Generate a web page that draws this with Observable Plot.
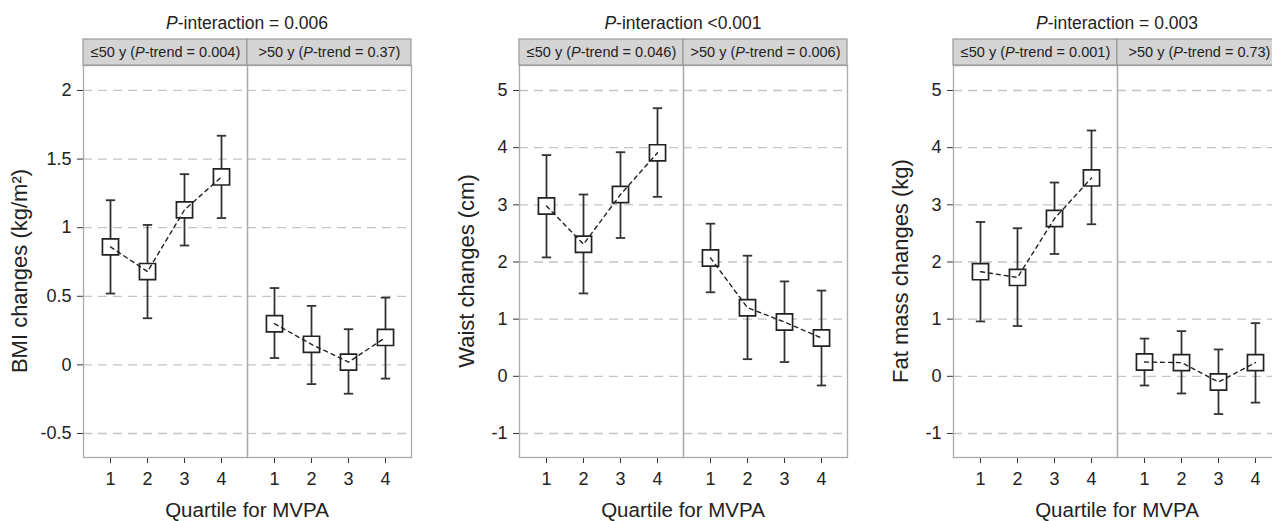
<!DOCTYPE html>
<html>
<head>
<meta charset="utf-8">
<script src="https://cdn.jsdelivr.net/npm/d3@7"></script>
<script src="https://cdn.jsdelivr.net/npm/@observablehq/plot@0.6"></script>
<style>
  body { margin: 0; background: #fff; font-family: "Liberation Sans", Arial, sans-serif; }
  #root { position: relative; width: 1272px; height: 521px; overflow: hidden; background: #fff; }
  .panel { position: absolute; top: 0; }
  .panel svg { max-width: none !important; }
  .title { position: absolute; top: 15px; font-size: 17.5px; color: #222; white-space: nowrap; transform: translateX(-50%); line-height: 1; }
  .xlab { position: absolute; top: 500px; font-size: 20.5px; color: #222; white-space: nowrap; transform: translateX(-50%); line-height: 1; }
  .ylab { position: absolute; font-size: 22px; color: #222; white-space: nowrap; line-height: 1; transform: translate(-50%, -50%) rotate(-90deg); }
</style>
</head>
<body>
<div id="root"></div>
<script>
// ---------- data ----------
const quartiles = [1, 2, 3, 4];
const groups = ["≤50 y", ">50 y"];

// BMI changes (kg/m²): 4 quartiles for ≤50 y, then 4 for >50 y
const bmiMean = [0.86, 0.68, 1.13, 1.37, 0.30, 0.15, 0.02, 0.20];
const bmiLow  = [0.52, 0.34, 0.87, 1.07, 0.05, -0.14, -0.21, -0.10];
const bmiHigh = [1.20, 1.02, 1.39, 1.67, 0.56, 0.43, 0.26, 0.49];
const bmiTrend = ["0.004", "0.37"];
const bmiTicks = [-0.5, 0, 0.5, 1, 1.5, 2];

// Waist changes (cm)
const waistMean = [2.98, 2.31, 3.18, 3.91, 2.07, 1.20, 0.95, 0.67];
const waistLow  = [2.08, 1.45, 2.42, 3.14, 1.47, 0.30, 0.25, -0.16];
const waistHigh = [3.87, 3.18, 3.92, 4.69, 2.67, 2.11, 1.66, 1.50];
const waistTrend = ["0.046", "0.006"];
const waistTicks = [-1, 0, 1, 2, 3, 4, 5];

// Fat mass changes (kg)
const fatMean = [1.83, 1.73, 2.76, 3.47, 0.25, 0.24, -0.10, 0.24];
const fatLow  = [0.96, 0.88, 2.14, 2.66, -0.16, -0.30, -0.66, -0.46];
const fatHigh = [2.70, 2.59, 3.39, 4.30, 0.66, 0.79, 0.47, 0.93];
const fatTrend = ["0.001", "0.73"];
const fatTicks = [-1, 0, 1, 2, 3, 4, 5];

const interactions = ["= 0.006", "<0.001", "= 0.003"];
const yLabels = ["BMI changes (kg/m²)", "Waist changes (cm)", "Fat mass changes (kg)"];
const xLabel = "Quartile for MVPA";

// ---------- drawing ----------
const capSymbol = {
  draw(ctx, size) {
    const w = Math.sqrt(size);
    ctx.moveTo(-w / 2, 0);
    ctx.lineTo(w / 2, 0);
  }
};

function esc(s) { return s.replace(/&/g, "&amp;").replace(/</g, "&lt;").replace(/>/g, "&gt;"); }

function makePanel(cfg) {
  const data = [];
  groups.forEach((g, gi) => quartiles.forEach((q, qi) => {
    const k = gi * 4 + qi;
    data.push({group: g, q, mean: cfg.mean[k], lo: cfg.lo[k], hi: cfg.hi[k]});
  }));
  const headers = groups.map((g, gi) => ({group: g, label: `${g} (P-trend = ${cfg.trend[gi]})`}));
  const top = cfg.domain[1];
  const plot = Plot.plot({
    width: cfg.width,
    height: 521,
    marginLeft: cfg.ml,
    marginRight: cfg.mr,
    marginTop: 65,
    marginBottom: 64,
    style: {fontFamily: "'Liberation Sans', Arial, sans-serif", fontSize: "18px", color: "#333", background: "transparent", overflow: "visible"},
    fx: {domain: groups, padding: 0, axis: null, label: null},
    x: {type: "point", domain: quartiles, padding: 0.658, tickSize: 6, tickPadding: 9, label: null, line: true},
    y: {domain: cfg.domain, ticks: cfg.ticks, tickSize: 6, tickPadding: 6, label: null, line: true, tickFormat: d => String(d)},
    marks: [
      Plot.ruleY(cfg.ticks, {stroke: "#c4c4c4", strokeWidth: 1.3, strokeDasharray: "9,6"}),
      Plot.frame({stroke: "#aaa", strokeWidth: 1.3}),
      Plot.rect([0], {y1: top, y2: top, insetTop: -26, fill: "#d4d4d4", stroke: "#999", strokeWidth: 1.2}),
      Plot.text(headers, {fx: "group", text: "label", frameAnchor: "top", dy: -13, fontSize: 14.5, fill: "#222", lineAnchor: "middle"}),
      Plot.ruleX(data, {fx: "group", x: "q", y1: "lo", y2: "hi", stroke: "#333", strokeWidth: 1.8}),
      Plot.dot(data, {fx: "group", x: "q", y: "hi", symbol: capSymbol, r: 5.3, stroke: "#333", strokeWidth: 1.8, fill: "none"}),
      Plot.dot(data, {fx: "group", x: "q", y: "lo", symbol: capSymbol, r: 5.3, stroke: "#333", strokeWidth: 1.8, fill: "none"}),
      Plot.dot(data, {fx: "group", x: "q", y: "mean", symbol: "square", r: 9.1, stroke: "#222", strokeWidth: 1.7, fill: "#fff"}),
      Plot.line(data, {fx: "group", x: "q", y: "mean", stroke: "#222", strokeWidth: 1.4, strokeDasharray: "4,4"})
    ]
  });
  plot.style.maxWidth = "none";
  plot.querySelectorAll("g").forEach(g => {
    const lab = g.getAttribute("aria-label") || "";
    if (lab.includes("axis")) {
      g.setAttribute("font-size", "18");
      g.style.fontSize = "18px";
    }
  });
  plot.querySelectorAll("text").forEach(t => {
    const s = t.textContent;
    if (s.includes("P-trend")) {
      t.innerHTML = esc(s).replace("P-", '<tspan font-style="italic">P</tspan>-');
    } else {
      t.setAttribute("font-size", "18");
      t.style.fontSize = "18px";
      t.style.fill = "#222";
    }
  });
  return plot;
}

const root = document.getElementById("root");
const panels = [
  {left: 0, width: 424, ml: 83, mr: 13, mean: bmiMean, lo: bmiLow, hi: bmiHigh, trend: bmiTrend, ticks: bmiTicks, domain: [-0.675, 2.182], ylabX: 20},
  {left: 424, width: 426, ml: 95, mr: 3, mean: waistMean, lo: waistLow, hi: waistHigh, trend: waistTrend, ticks: waistTicks, domain: [-1.42, 5.437], ylabX: 467},
  {left: 848, width: 440, ml: 105, mr: 7, mean: fatMean, lo: fatLow, hi: fatHigh, trend: fatTrend, ticks: fatTicks, domain: [-1.42, 5.437], ylabX: 901}
];

panels.forEach((cfg, i) => {
  const wrap = document.createElement("div");
  wrap.className = "panel";
  wrap.style.left = cfg.left + "px";
  wrap.style.width = cfg.width + "px";
  wrap.appendChild(makePanel(cfg));
  root.appendChild(wrap);

  const center = cfg.left + cfg.ml + 164;
  const title = document.createElement("div");
  title.className = "title";
  title.style.left = center + "px";
  title.innerHTML = "<i>P</i>-interaction " + esc(interactions[i]);
  root.appendChild(title);

  const xl = document.createElement("div");
  xl.className = "xlab";
  xl.style.left = center + "px";
  xl.textContent = xLabel;
  root.appendChild(xl);

  const yl = document.createElement("div");
  yl.className = "ylab";
  yl.style.left = cfg.ylabX + "px";
  yl.style.top = "271px";
  yl.textContent = yLabels[i];
  root.appendChild(yl);
});
</script>
</body>
</html>
